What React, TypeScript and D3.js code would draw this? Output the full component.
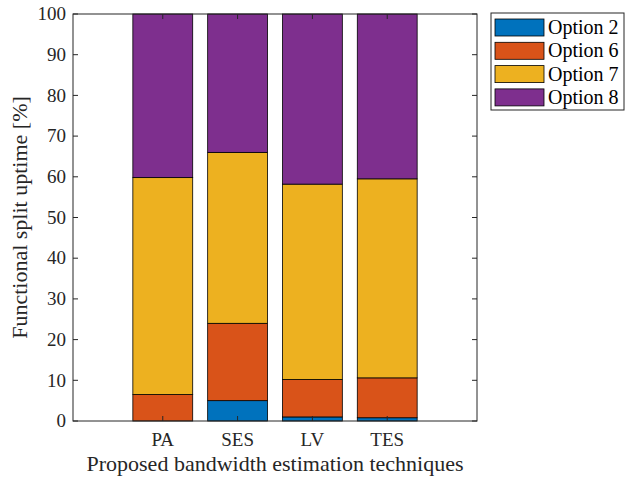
import React, { useRef, useEffect } from 'react';
import * as d3 from 'd3';

const categories = ['PA', 'SES', 'LV', 'TES'];
const seriesNames = ['Option 2', 'Option 6', 'Option 7', 'Option 8'];
const option2 = [0, 5.0, 1.0, 0.8];
const option6 = [6.5, 19.0, 9.2, 9.8];
const option7 = [53.3, 42.0, 48.0, 48.9];
const option8 = [40.2, 34.0, 41.8, 40.5];
const yTicks = [0, 10, 20, 30, 40, 50, 60, 70, 80, 90, 100];
const colors = ['#0072BD', '#D95319', '#EDB120', '#7E2F8E'];

const W = 626;
const H = 478;
const margin = { left: 73, right: 149, top: 14, bottom: 57 };
const FONT = 'Liberation Serif';

const App: React.FC = () => {
    const svgRef = useRef<SVGSVGElement | null>(null);

    useEffect(() => {
        if (!svgRef.current) return;
        const svg = d3.select(svgRef.current);
        svg.selectAll('*').remove();

        const x0 = margin.left;
        const x1 = W - margin.right;
        const y0 = H - margin.bottom;
        const y1 = margin.top;

        const x = d3.scaleLinear().domain([-0.2, 5.2]).range([x0, x1]);
        const y = d3.scaleLinear().domain([0, 100]).range([y0, y1]);

        const rows = categories.map((c, i) => ({
            cat: c,
            pos: i + 1,
            'Option 2': option2[i],
            'Option 6': option6[i],
            'Option 7': option7[i],
            'Option 8': option8[i],
        }));
        const stack = d3.stack<any>().keys(seriesNames)(rows);

        const barW = x(0.8) - x(0);
        const g = svg.append('g');

        stack.forEach((layer, si) => {
            g.selectAll(null)
                .data(layer)
                .enter()
                .append('rect')
                .attr('x', (d) => x(d.data.pos) - barW / 2)
                .attr('y', (d) => y(d[1]))
                .attr('width', barW)
                .attr('height', (d) => Math.max(0, y(d[0]) - y(d[1])))
                .attr('fill', colors[si])
                .attr('stroke', '#000')
                .attr('stroke-width', 0.8)
                .attr('display', (d) => (d[1] - d[0] > 0 ? null : 'none'));
        });

        // axes box
        const axisColor = '#262626';
        g.append('rect')
            .attr('x', x0)
            .attr('y', y1)
            .attr('width', x1 - x0)
            .attr('height', y0 - y1)
            .attr('fill', 'none')
            .attr('stroke', axisColor)
            .attr('stroke-width', 1);

        const tickLen = 5;
        yTicks.forEach((t) => {
            g.append('line')
                .attr('x1', x0).attr('x2', x0 + tickLen)
                .attr('y1', y(t)).attr('y2', y(t))
                .attr('stroke', axisColor);
            g.append('line')
                .attr('x1', x1).attr('x2', x1 - tickLen)
                .attr('y1', y(t)).attr('y2', y(t))
                .attr('stroke', axisColor);
            g.append('text')
                .attr('x', x0 - 7)
                .attr('y', y(t))
                .attr('dy', '0.33em')
                .attr('text-anchor', 'end')
                .attr('font-family', FONT)
                .attr('font-size', 19)
                .attr('fill', axisColor)
                .text(t);
        });

        rows.forEach((r) => {
            g.append('line')
                .attr('x1', x(r.pos)).attr('x2', x(r.pos))
                .attr('y1', y0).attr('y2', y0 - tickLen)
                .attr('stroke', axisColor);
            g.append('line')
                .attr('x1', x(r.pos)).attr('x2', x(r.pos))
                .attr('y1', y1).attr('y2', y1 + tickLen)
                .attr('stroke', axisColor);
            g.append('text')
                .attr('x', x(r.pos))
                .attr('y', y0 + 25)
                .attr('text-anchor', 'middle')
                .attr('font-family', FONT)
                .attr('font-size', 19)
                .attr('fill', axisColor)
                .text(r.cat);
        });

        g.append('text')
            .attr('x', (x0 + x1) / 2)
            .attr('y', H - 7)
            .attr('text-anchor', 'middle')
            .attr('font-family', FONT)
            .attr('font-size', 22)
            .attr('fill', axisColor)
            .text('Proposed bandwidth estimation techniques');

        g.append('text')
            .attr('transform', `translate(27,${(y0 + y1) / 2}) rotate(-90)`)
            .attr('text-anchor', 'middle')
            .attr('font-family', FONT)
            .attr('font-size', 22)
            .attr('fill', axisColor)
            .text('Functional split uptime [%]');

        // legend
        const lx = 491;
        const ly = 13;
        const lg = svg.append('g');
        lg.append('rect')
            .attr('x', lx)
            .attr('y', ly)
            .attr('width', 133)
            .attr('height', 97)
            .attr('fill', '#fff')
            .attr('stroke', axisColor)
            .attr('stroke-width', 1);
        seriesNames.forEach((name, i) => {
            const ry = ly + 6 + i * 23.3;
            lg.append('rect')
                .attr('x', lx + 4)
                .attr('y', ry)
                .attr('width', 49)
                .attr('height', 17)
                .attr('fill', colors[i])
                .attr('stroke', '#000')
                .attr('stroke-width', 0.8);
            lg.append('text')
                .attr('x', lx + 57)
                .attr('y', ry + 8.5)
                .attr('dy', '0.33em')
                .attr('font-family', FONT)
                .attr('font-size', 20)
                .attr('fill', '#000')
                .text(name);
        });
    }, []);

    return (
        <svg
            ref={svgRef}
            width={W}
            height={H}
            style={{ position: 'absolute', left: 0, top: 0, background: '#fff' }}
        />
    );
};

export default App;
